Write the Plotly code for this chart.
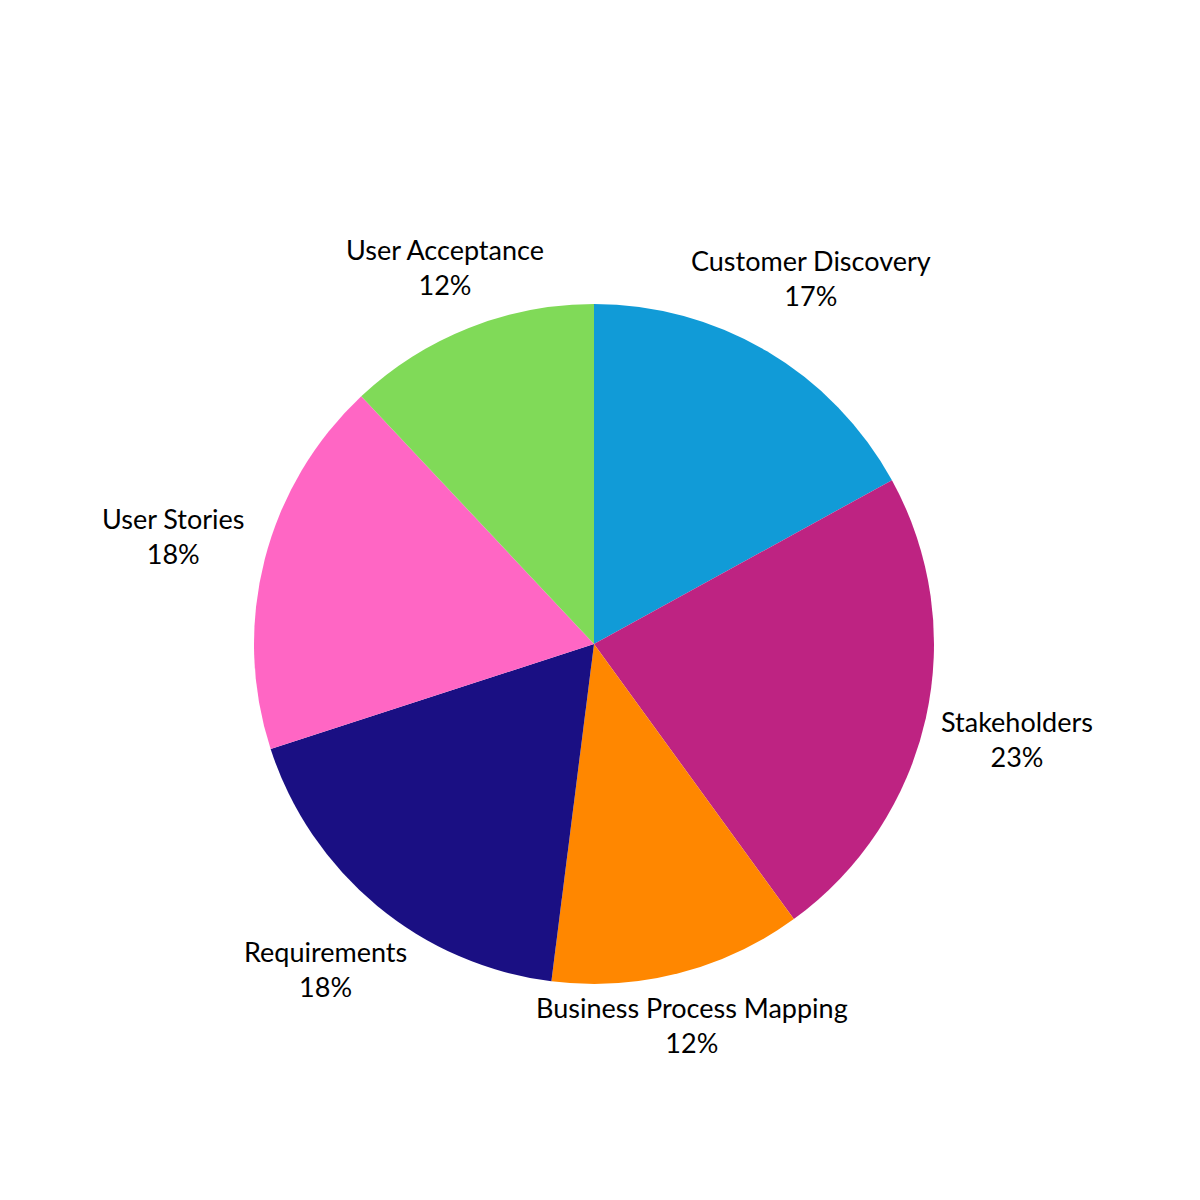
import math
import plotly.graph_objects as go

labels = ["Customer Discovery", "Stakeholders", "Business Process Mapping",
          "Requirements", "User Stories", "User Acceptance"]
values = [17, 23, 12, 18, 18, 12]
colors = ["#119BD7", "#BE2382", "#FF8700", "#1A0F83", "#FF66C4", "#80DA58"]

# layout / style constants
FONT = "Lato"
FONT_SIZE = 27
PIE_PX = 680            # pie diameter in pixels
M_L, M_T = 246, 296     # margins placing the pie
LABEL_GAP = 12          # gap between pie edge and nearest point of a label box
CHAR_W = 12.9           # approx. average glyph width (px) at FONT_SIZE
LINE_H = 29             # approx. half height of the two-line label box (px)

fig = go.Figure(go.Pie(
    labels=labels,
    values=values,
    sort=False,
    direction="clockwise",
    rotation=0,
    marker=dict(colors=colors, line=dict(width=0)),
    textinfo="none",
    showlegend=False,
    hoverinfo="skip",
    automargin=False,
))

# labels: centred on each slice's mid-angle ray, pushed outwards until the
# box clears the pie by LABEL_GAP pixels
R = PIE_PX / 2
total = sum(values)
cum = 0
annotations = []
for lab, v in zip(labels, values):
    mid = (cum + v / 2) / total * 2 * math.pi
    cum += v
    ux, uy = math.sin(mid), -math.cos(mid)      # screen coords (y down)
    pct = round(v / total * 100)
    a = max(len(lab), len(f"{pct}%")) * CHAR_W / 2
    b = LINE_H

    def nearest(d):
        cx, cy = d * ux, d * uy
        nx = max(abs(cx) - a, 0)
        ny = max(abs(cy) - b, 0)
        return math.hypot(nx, ny)

    lo, hi = 0.0, 2000.0
    for _ in range(80):
        m = (lo + hi) / 2
        if nearest(m) < R + LABEL_GAP:
            lo = m
        else:
            hi = m
    d = (lo + hi) / 2
    annotations.append(dict(
        x=0.5 + d * ux / PIE_PX,
        y=0.5 - d * uy / PIE_PX,
        xref="paper", yref="paper",
        text=f"{lab}<br>{pct}%",
        showarrow=False,
        xanchor="center", yanchor="middle",
        align="center",
        font=dict(family=FONT, size=FONT_SIZE, color="#000000"),
    ))

fig.update_layout(
    width=1200, height=1200,
    paper_bgcolor="white",
    plot_bgcolor="white",
    margin=dict(l=M_L, r=1200 - M_L - PIE_PX, t=M_T, b=1200 - M_T - PIE_PX),
    font=dict(family=FONT, size=FONT_SIZE, color="#000000"),
    annotations=annotations,
)

fig.write_html("out.html")
